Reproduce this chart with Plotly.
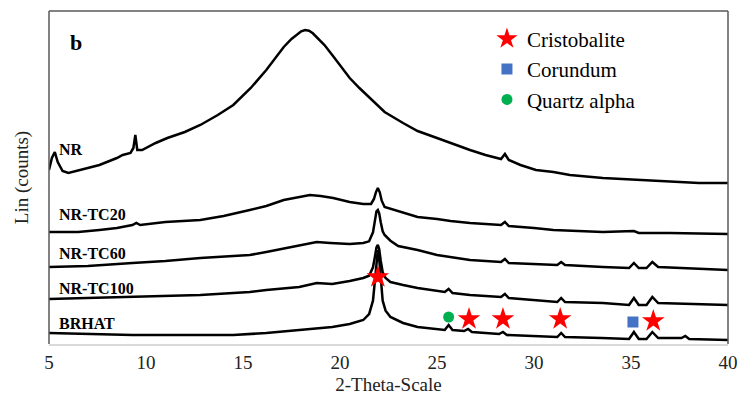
import plotly.graph_objects as go

# 2-theta positions (degrees) and intensities (arbitrary counts, offset-stacked as in the figure)
nr_x = [5.0, 5.15, 5.3, 5.45, 5.7, 6.0, 7.0, 7.6, 8.5, 8.8, 9.2, 9.35, 9.45, 9.55, 9.8, 10.5, 11.1, 12.0,
        12.8, 13.7, 14.5, 15.4, 16.2, 16.7, 17.1, 17.5, 17.8, 18.0, 18.2, 18.4, 18.6, 18.8, 19.2, 19.6,
        20.0, 20.5, 21.0, 21.5, 22.3, 23.25, 24.0, 25.0, 25.8, 26.7, 27.5, 28.3, 28.5, 28.7, 29.3, 30.1,
        31.0, 31.85, 33.55, 35.3, 37.0, 38.5, 40.0]
nr_y = [522, 558, 576, 546, 519, 513, 528, 537, 558, 567, 573, 588, 627, 582, 582, 603, 618, 636,
        657, 687, 717, 768, 822, 861, 891, 915, 930, 938, 942, 940, 932, 921, 897, 867,
        837, 798, 768, 741, 696, 663, 639, 618, 600, 582, 567, 555, 570, 552, 537, 522,
        516, 507, 498, 492, 486, 483, 483]

tc20_x = [5.0, 6.5, 7.6, 8.5, 9.3, 9.5, 9.7, 11.0, 12.8, 14.0, 15.35, 16.2, 17.1, 17.9, 18.45, 19.0,
          19.65, 20.5, 21.2, 21.6, 21.75, 21.85, 21.95, 22.05, 22.15, 22.3, 23.25, 24.0, 25.0, 25.7,
          26.7, 28.3, 28.5, 28.7, 30.0, 31.0, 33.55, 35.15, 35.4, 37.0, 40.0]
tc20_y = [336, 336, 342, 348, 357, 363, 357, 366, 372, 384, 402, 414, 432, 441, 447, 444,
          438, 426, 420, 420, 435, 455, 468, 455, 430, 411, 393, 381, 375, 369,
          363, 357, 366, 354, 348, 342, 336, 339, 333, 333, 330]

tc60_x = [5.0, 7.0, 9.3, 11.0, 12.8, 14.5, 15.35, 16.2, 17.0, 17.9, 18.8, 19.5, 20.5, 21.2, 21.5, 21.7,
          21.8, 21.88, 21.95, 22.02, 22.1, 22.2, 22.3, 22.6, 23.0, 24.0, 25.0, 25.7, 26.7, 28.3, 28.5,
          28.7, 30.0, 31.2, 31.4, 31.6, 33.55, 34.9, 35.15, 35.4, 35.8, 36.1, 36.4, 37.9, 40.0]
tc60_y = [231, 234, 243, 249, 258, 264, 267, 276, 285, 297, 306, 303, 300, 303, 308, 335,
          370, 398, 402, 392, 365, 338, 327, 310, 294, 282, 267, 261, 252, 246, 255,
          243, 240, 237, 246, 237, 231, 228, 243, 228, 228, 246, 231, 228, 222]

tc100_x = [5.0, 7.0, 9.3, 11.0, 12.8, 14.5, 15.35, 16.2, 17.9, 18.8, 19.6, 20.5, 21.2, 21.5, 21.7,
           21.8, 21.88, 21.95, 22.02, 22.1, 22.2, 22.35, 22.6, 23.25, 24.0, 25.4, 25.6, 25.8, 26.7,
           28.3, 28.5, 28.7, 30.0, 31.2, 31.4, 31.6, 33.55, 34.9, 35.15, 35.4, 35.8, 36.1, 36.4, 37.9,
           40.0]
tc100_y = [135, 138, 141, 144, 147, 153, 156, 162, 171, 183, 180, 189, 198, 205, 230,
           262, 290, 297, 285, 250, 215, 198, 186, 177, 168, 156, 165, 153, 147,
           141, 150, 138, 132, 126, 138, 126, 123, 117, 138, 117, 117, 141, 123, 120,
           117]

brhat_x = [5.0, 7.0, 9.3, 12.8, 14.5, 16.2, 17.9, 18.8, 19.6, 20.5, 21.2, 21.5, 21.7, 21.8, 21.88,
           21.95, 22.02, 22.1, 22.2, 22.35, 22.6, 23.25, 24.0, 25.4, 25.6, 25.8, 26.4, 26.6, 26.8,
           28.2, 28.4, 28.6, 30.0, 31.2, 31.4, 31.6, 33.5, 34.9, 35.15, 35.4, 35.8, 36.1, 36.4, 37.6,
           37.8, 38.0, 40.0]
brhat_y = [33, 30, 27, 27, 27, 33, 42, 48, 51, 60, 72, 90, 130, 190, 250,
           282, 255, 190, 130, 100, 81, 63, 51, 42, 57, 42, 39, 45, 36,
           30, 36, 27, 24, 21, 33, 21, 18, 15, 36, 15, 15, 36, 18, 18,
           24, 15, 12]

# phase markers
cristobalite_x = [21.95, 26.65, 28.4, 31.35, 36.15]
cristobalite_y = [201, 75, 75, 75, 69]
corundum_x = [35.1]
corundum_y = [66]
quartz_x = [25.6]
quartz_y = [81]

sample_labels = ["NR", "NR-TC20", "NR-TC60", "NR-TC100", "BRHAT"]
label_x = [5.4, 5.4, 5.4, 5.4, 5.4]
label_y = [584, 390, 273, 168, 63]

x_ticks = [5, 10, 15, 20, 25, 30, 35, 40]

SERIF = "Liberation Serif"

fig = go.Figure()
for xs, ys in [(nr_x, nr_y), (tc20_x, tc20_y), (tc60_x, tc60_y), (tc100_x, tc100_y), (brhat_x, brhat_y)]:
    fig.add_trace(go.Scatter(x=xs, y=ys, mode="lines", line=dict(color="black", width=2.5),
                             showlegend=False, hoverinfo="skip"))

fig.add_trace(go.Scatter(x=cristobalite_x, y=cristobalite_y, mode="markers", name="Cristobalite",
                         marker=dict(symbol="star", size=17, color="#ff0000", line=dict(width=0))))
fig.add_trace(go.Scatter(x=corundum_x, y=corundum_y, mode="markers", name="Corundum",
                         marker=dict(symbol="square", size=11, color="#4472c4", line=dict(width=0))))
fig.add_trace(go.Scatter(x=quartz_x, y=quartz_y, mode="markers", name="Quartz alpha",
                         marker=dict(symbol="circle", size=11, color="#00b050", line=dict(width=0))))

for lab, lx, ly in zip(sample_labels, label_x, label_y):
    fig.add_annotation(x=lx, y=ly, text="<b>" + lab + "</b>", showarrow=False, xanchor="left",
                       yanchor="middle", font=dict(family=SERIF, size=16, color="black"))

fig.add_annotation(x=0.028, y=0.905, xref="paper", yref="paper", text="<b>b</b>", showarrow=False,
                   xanchor="left", yanchor="middle", font=dict(family=SERIF, size=22, color="black"))

# frame: top, left, right in dark grey
for x0, y0, x1, y1 in [(0, 1, 1, 1), (0, 0, 0, 1), (1, 0, 1, 1)]:
    fig.add_shape(type="line", xref="x domain", yref="y domain", x0=x0, y0=y0, x1=x1, y1=y1,
                  line=dict(color="#595959", width=1.5))

fig.update_layout(
    width=739, height=401,
    margin=dict(l=49, r=11, t=11, b=57, autoexpand=False),
    paper_bgcolor="white", plot_bgcolor="white",
    font=dict(family=SERIF, color="black"),
    legend=dict(x=0.645, y=0.977, xanchor="left", yanchor="top", bgcolor="rgba(0,0,0,0)",
                font=dict(family=SERIF, size=21, color="black"), itemsizing="trace",
                tracegroupgap=0),
    xaxis=dict(range=[5, 40], tickvals=x_ticks, ticks="", showgrid=False, zeroline=False,
               showline=True, linecolor="#d9d9d9", linewidth=2, automargin=False,
               tickfont=dict(family=SERIF, size=19, color="#222222"),
               title=dict(text="2-Theta-Scale", font=dict(family=SERIF, size=19, color="#222222"),
                          standoff=6)),
    yaxis=dict(range=[0, 999], showticklabels=False, ticks="", showgrid=False, zeroline=False,
               showline=False, automargin=False,
               title=dict(text="Lin (counts)", font=dict(family=SERIF, size=19, color="#222222"),
                          standoff=14)),
)

fig.write_html("out.html")
